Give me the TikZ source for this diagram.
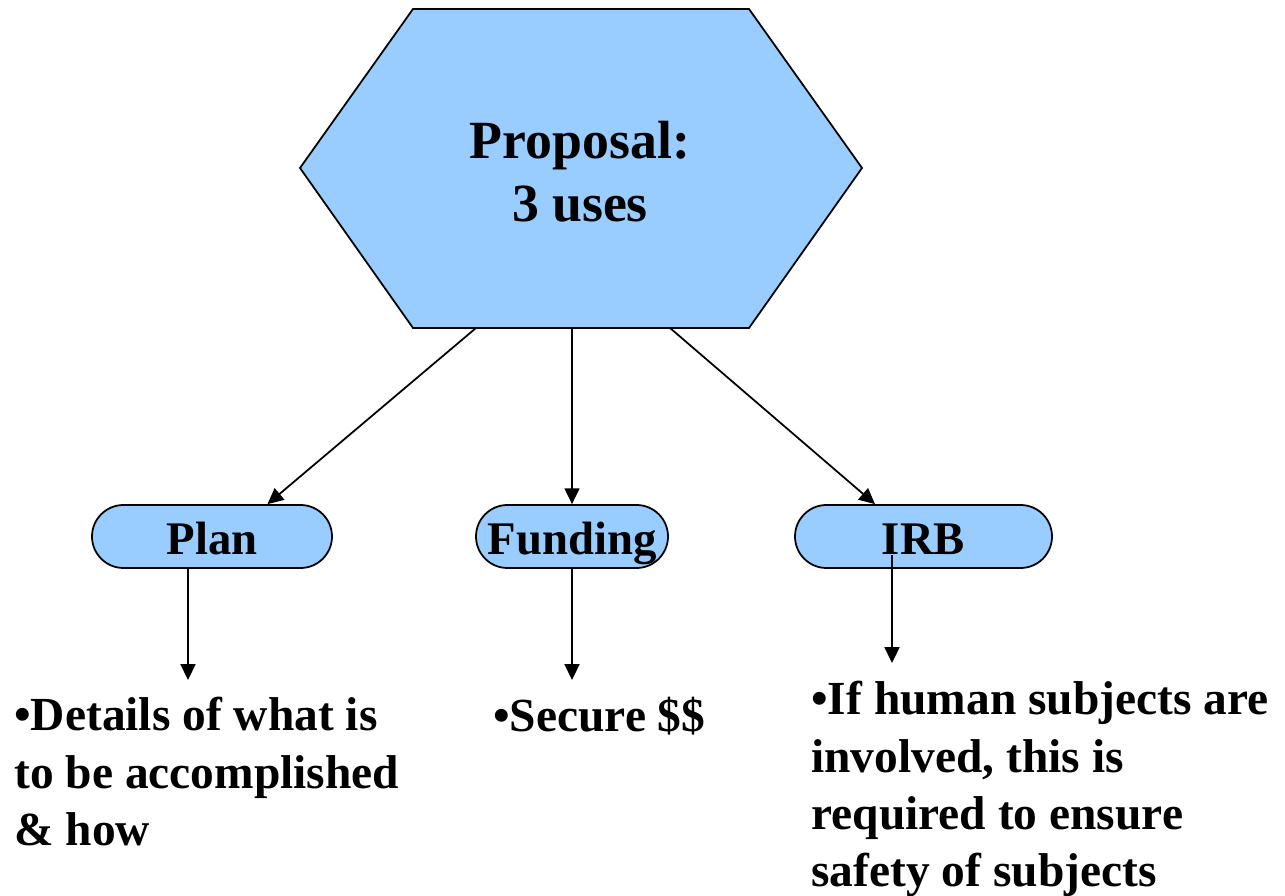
\documentclass[tikz,border=0pt]{standalone}
\usepackage{fontspec}
\setmainfont{Liberation Serif}
\usetikzlibrary{positioning,calc,arrows.meta}
\definecolor{skyblue}{HTML}{99CCFF}

\begin{document}
\begin{tikzpicture}[
    use/.style={draw, line width=1pt, fill=skyblue, rounded corners=0.63cm,
                minimum height=1.26cm, inner sep=0pt,
                text height=24pt, text depth=3pt,
                font=\bfseries\fontsize{26.6}{30}\selectfont},
    link/.style={line width=1pt, -{Triangle[width=8.5pt,length=9pt]}},
    note/.style={anchor=north west, inner sep=0pt, align=left,
                 font=\bfseries\fontsize{27}{32.6}\selectfont}]

  \useasboundingbox (0,0) rectangle (25.7,17.9);

  % hexagon corners
  \coordinate (A) at (8.26,17.72);
  \coordinate (B) at (14.98,17.72);
  \coordinate (C) at (17.24,14.54);
  \coordinate (D) at (14.98,11.34);
  \coordinate (E) at (8.26,11.34);
  \coordinate (F) at (6.0,14.54);

  \filldraw[fill=skyblue, line width=1pt]
         (A) -- (B) -- (C) -- (D) -- (E) -- (F) -- cycle;

  \node[align=center, font=\bfseries\fontsize{30.6}{35.7}\selectfont]
        (proposal) at (11.6,14.47) {Proposal:\\3 uses};

  % the three uses
  \node[use, minimum width=4.8cm]  (plan)    at (4.24,7.17)  {Plan};
  \node[use, minimum width=3.84cm] (funding) at (11.44,7.17) {Funding};
  \node[use, minimum width=5.14cm] (irb)     at (18.47,7.17) {IRB};

  \coordinate (hexl) at (9.52,11.34);
  \coordinate (hexr) at (13.40,11.34);

  \draw[link] (hexl) -- ($(plan.north)+(1.11,0)$);
  \draw[link] (funding |- E) -- (funding);
  \draw[link] (hexr) -- ($(irb.north)+(-0.97,0)$);

  % arrow ends above the notes
  \coordinate (plantip) at (3.76,4.30);
  \coordinate (fundtip) at (11.44,4.30);
  \coordinate (irbtip)  at (17.84,4.64);

  \draw[link] (plantip |- plan.south) -- (plantip);
  \draw[link] (funding.south) -- (fundtip);
  \draw[link] (17.84,6.80) -- (irbtip);

  \node[note] (plannote) at (0.28,3.96)
        {•Details of what is\\to be accomplished\\\& how};
  \node[note] (fundnote) at (9.86,3.96) {•Secure \$\$};
  \node[note] (irbnote)  at (16.22,4.28)
        {•If human subjects are\\involved, this is\\required to ensure\\safety of subjects};

\end{tikzpicture}
\end{document}
